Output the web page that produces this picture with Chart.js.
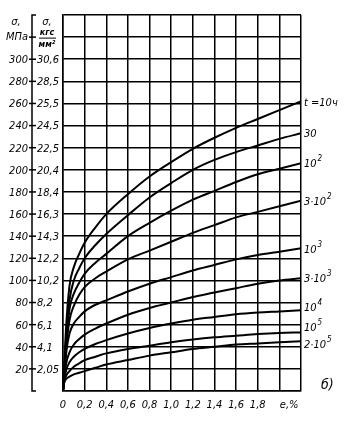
<!DOCTYPE html>
<html>
<head>
<meta charset="utf-8">
<script src="https://cdn.jsdelivr.net/npm/chart.js@4"></script>
<style>
  html, body { margin: 0; padding: 0; background: #fff; }
  #wrap { width: 344px; height: 424px; }
</style>
</head>
<body>
<div id="wrap"><canvas id="creep" width="344" height="424"></canvas></div>
<script>
// деформация e, %
var strain = [0, 0.01, 0.03, 0.06, 0.1, 0.15, 0.2, 0.3, 0.4, 0.6, 0.8, 1.0, 1.2, 1.4, 1.6, 1.8, 2.0, 2.2]

// напряжение, МПа, для каждого времени t
var s_10   = [0, 20, 60, 95, 112, 124, 134, 148, 160, 178, 194, 207, 219, 229, 238, 246, 254, 262]
var s_30   = [0, 16, 50, 82, 100, 111, 120, 132, 142, 159, 175, 188, 200, 209, 216, 222, 228, 233]
var s_1e2  = [0, 15, 45, 74, 88, 98, 106, 116, 124, 140, 152, 163, 173, 181, 189, 196, 201, 206]
var s_3e2  = [0, 14, 40, 64, 77, 87, 94, 102, 108, 119, 127, 135, 143, 150, 157, 162, 167, 172]
var s_1e3  = [0, 12, 35, 52, 61, 67, 72, 78, 82, 90, 97, 103, 109, 114, 119, 123, 126, 129]
var s_3e3  = [0, 10, 25, 35, 42, 47, 51, 56.5, 61, 69, 75, 80, 85, 89, 93, 97, 100, 102]
var s_1e4  = [0, 9, 19, 26, 31, 35, 38, 42.5, 46, 52, 57, 61, 64.5, 67, 69.5, 71, 72, 73]
var s_1e5  = [0, 8, 14, 18, 22, 25, 28, 31, 34, 38, 41, 44, 46.5, 48.5, 50, 51.5, 52.5, 53]
var s_2e5  = [0, 7, 11, 13, 15, 16.5, 18, 21, 24, 28, 32, 35, 38, 40, 42, 43, 44, 45]

var curveLabels = [['t =10ч', ''], ['30', ''], ['10', '2'], ['3·10', '2'], ['10', '3'],
                   ['3·10', '3'], ['10', '4'], ['10', '5'], ['2·10', '5']]

// подписи осей
var mpaTicks = [20, 40, 60, 80, 100, 120, 140, 160, 180, 200, 220, 240, 260, 280, 300]
var kgfTicks = ['2,05', '4,1', '6,1', '8,2', '10,2', '12,2', '14,3', '16,3', '18,4',
                '20,4', '22,5', '24,5', '25,5', '28,5', '30,6']
var eTicks = [0, 0.2, 0.4, 0.6, 0.8, 1.0, 1.2, 1.4, 1.6, 1.8]
var eTickLabels = ['0', '0,2', '0,4', '0,6', '0,8', '1,0', '1,2', '1,4', '1,6', '1,8']

var allSeries = [s_10, s_30, s_1e2, s_3e2, s_1e3, s_3e3, s_1e4, s_1e5, s_2e5]

var FONT = "italic 11px 'DejaVu Sans Condensed', 'Liberation Sans Narrow', sans-serif"

function toPoints(ys) {
    return strain.map((x, i) => ({x: x, y: ys[i]}))
}

var datasets = allSeries.map(ys => ({
    data: toPoints(ys),
    borderColor: '#000',
    borderWidth: 2,
    pointRadius: 0,
    fill: false,
    cubicInterpolationMode: 'monotone'
}))

// белый фон
const whiteBg = {
    id: 'whiteBg',
    beforeDraw(chart) {
        const c = chart.ctx
        c.save()
        c.fillStyle = '#fff'
        c.fillRect(0, 0, chart.width, chart.height)
        c.restore()
    }
}

// подписи: шкалы слева, e внизу, t у кривых
const texts = {
    id: 'texts',
    afterDraw(chart) {
        const c = chart.ctx
        const xs = chart.scales.x
        const ys = chart.scales.y
        const area = chart.chartArea
        const axisX = 32
        c.save()
        c.fillStyle = '#000'
        c.strokeStyle = '#000'
        c.font = FONT
        c.textBaseline = 'middle'

        // вертикальная линия между шкалами
        c.lineWidth = 1.5
        c.beginPath()
        c.moveTo(axisX + 4, area.top)
        c.lineTo(axisX, area.top)
        c.lineTo(axisX, area.bottom)
        c.lineTo(axisX + 4, area.bottom)
        c.stroke()

        mpaTicks.forEach((v, i) => {
            const py = ys.getPixelForValue(v)
            c.beginPath()
            c.moveTo(axisX - 3, py)
            c.lineTo(axisX + 4, py)
            c.stroke()
            c.textAlign = 'right'
            c.fillText(String(v), axisX - 4, py + 1)
            c.textAlign = 'left'
            c.fillText(kgfTicks[i], axisX + 5, py + 1)
        })

        // заголовки шкал
        const py320 = ys.getPixelForValue(320)
        c.beginPath()
        c.moveTo(axisX - 3, py320)
        c.lineTo(axisX + 4, py320)
        c.stroke()
        c.textAlign = 'center'
        c.fillText('σ,', 16, 22)
        c.fillText('МПа', 17, py320)
        c.fillText('σ,', 47, 22)
        c.font = "italic bold 9px 'DejaVu Sans Condensed', sans-serif"
        c.fillText('кгс', 47, py320 - 4)
        c.fillText('мм²', 47, py320 + 8)
        c.lineWidth = 1
        c.beginPath()
        c.moveTo(39, py320 + 1)
        c.lineTo(56, py320 + 1)
        c.stroke()

        // ось e
        c.font = FONT
        c.textAlign = 'center'
        eTicks.forEach((v, i) => {
            c.fillText(eTickLabels[i], xs.getPixelForValue(v), area.bottom + 14)
        })
        c.fillText('e,%', xs.getPixelForValue(2.1) - 1, area.bottom + 14)

        // подписи кривых
        const dy = [1, 0, 0, 0, 1, 0, -3, -5, 3]
        c.textAlign = 'left'
        chart.data.datasets.forEach((ds, i) => {
            const last = ds.data[ds.data.length - 1]
            const px = xs.getPixelForValue(last.x) + 3
            const py = ys.getPixelForValue(last.y) + dy[i]
            const base = curveLabels[i][0]
            const sup = curveLabels[i][1]
            c.font = FONT
            c.fillText(base, px, py + 1)
            if (sup) {
                const w = c.measureText(base).width
                c.font = "italic 8px 'DejaVu Sans Condensed', sans-serif"
                c.fillText(sup, px + w + 1, py - 4)
            }
        })

        c.font = "italic 14px 'DejaVu Sans Condensed', sans-serif"
        c.fillText('б)', area.right + 20, area.bottom - 6)
        c.restore()
    }
}

var creepChart = new Chart(document.getElementById('creep').getContext('2d'), {
    type: 'line',
    data: { datasets },
    options: {
        responsive: false,
        maintainAspectRatio: false,
        animation: false,
        layout: { padding: { left: 63, right: 43, top: 15, bottom: 33 } },
        plugins: {
            legend: { display: false },
            tooltip: { enabled: false }
        },
        scales: {
            x: {
                type: 'linear',
                min: 0,
                max: 2.2,
                ticks: { display: false, stepSize: 0.2 },
                grid: { color: '#000', lineWidth: 1.5, drawTicks: false },
                border: { color: '#000', width: 1.5 }
            },
            y: {
                type: 'linear',
                min: 0,
                max: 340,
                ticks: { display: false, stepSize: 20 },
                grid: { color: '#000', lineWidth: 1.5, drawTicks: false },
                border: { color: '#000', width: 1.5 }
            }
        }
    },
    plugins: [whiteBg, texts]
})
</script>
</body>
</html>
